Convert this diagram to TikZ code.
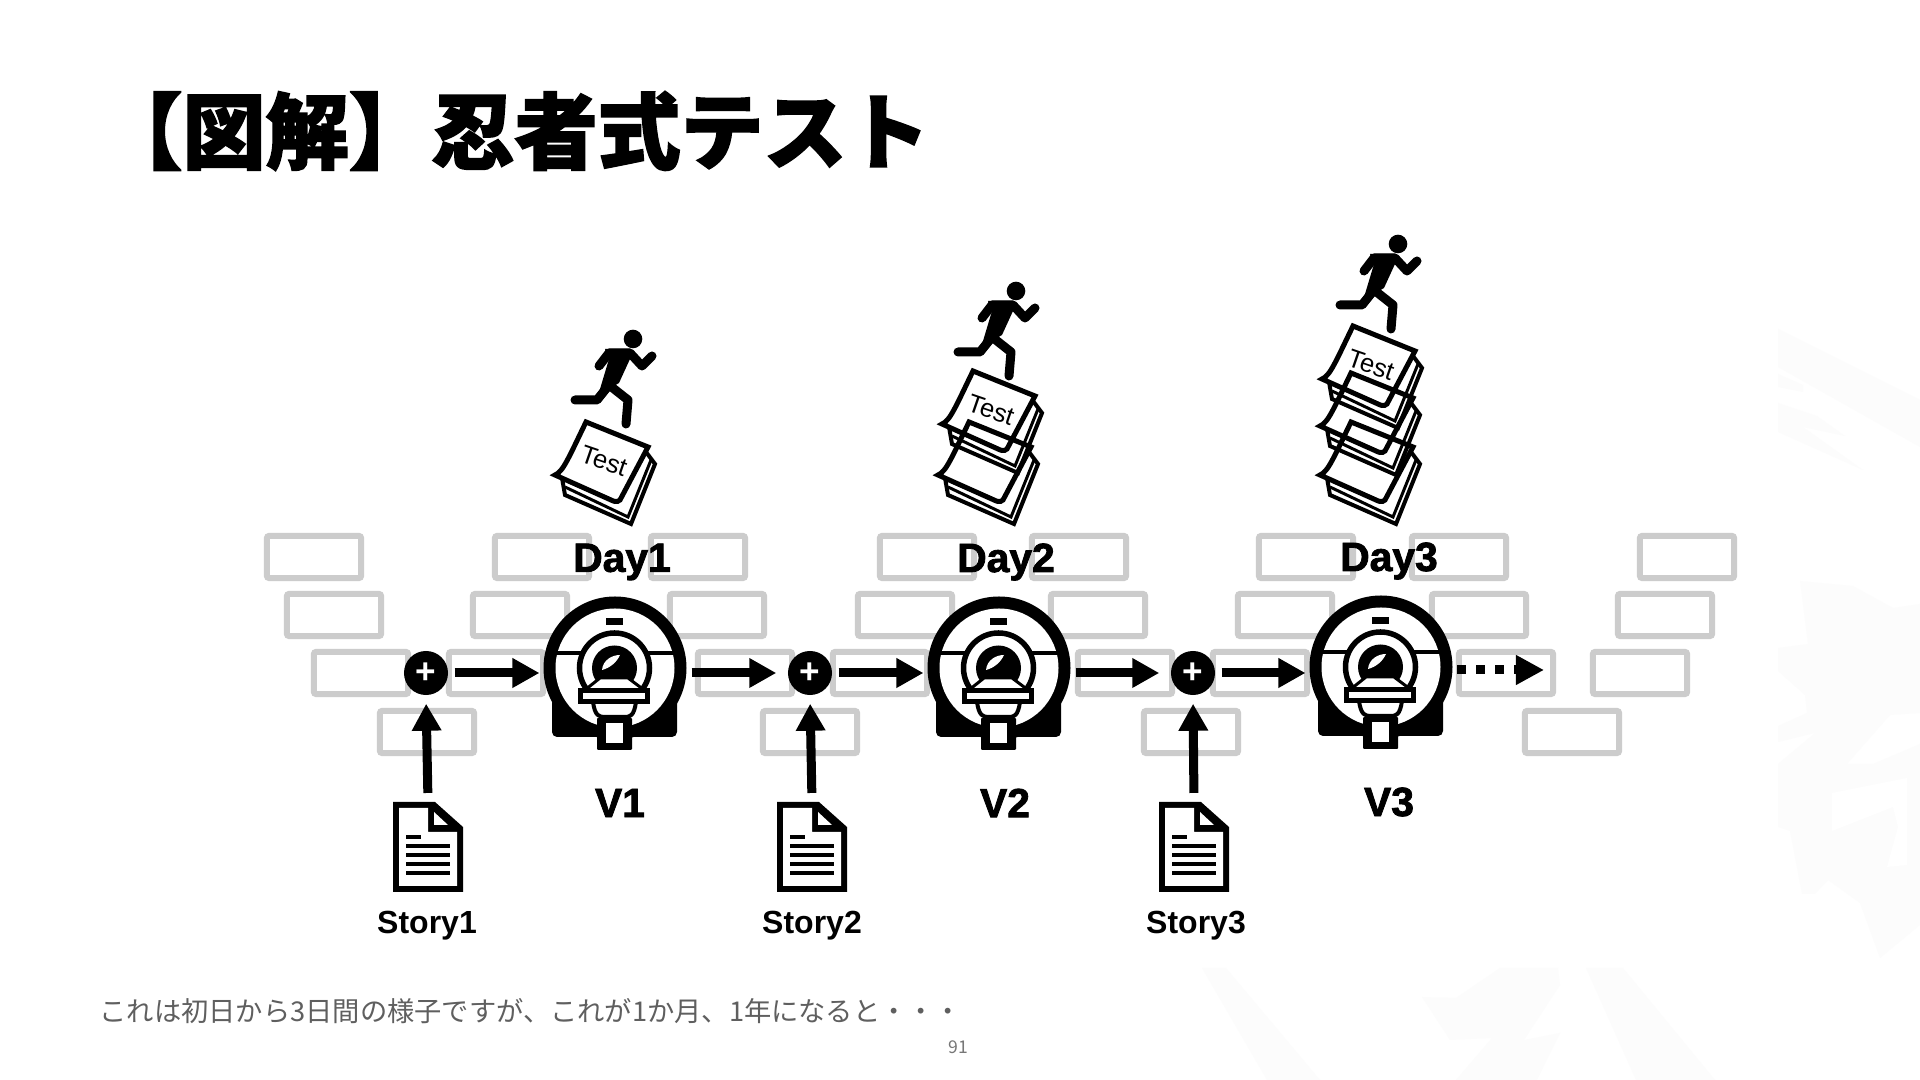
\documentclass[tikz,border=0pt]{standalone}
\usepackage{fontspec}
\setmainfont{Liberation Sans}
\newfontfamily\cjkfont{Noto Sans CJK JP}[BoldFeatures={FakeBold=2}]
\newfontfamily\heavyfont[UprightFont=* Bold,FakeBold=2]{Liberation Sans}
\usetikzlibrary{positioning,calc,arrows.meta}
\definecolor{BrickGray}{HTML}{CCCCCC}
\definecolor{NoteGray}{HTML}{5F5F5F}
\definecolor{PageGray}{HTML}{777777}
\definecolor{WaterGray}{HTML}{FCFCFC}
\tikzset{
  brick/.style={draw=BrickGray, line width=0.06cm, rounded corners=0.02cm, minimum width=0.94cm, minimum height=0.42cm, inner sep=0pt},
  flow/.style={-{Triangle[length=0.27cm,width=0.28cm]}, line width=0.09cm},
  addnode/.style={circle, fill=black, text=white, minimum size=0.44cm, inner sep=0pt, font=\bfseries\fontsize{10}{10}\selectfont},
  scanner/.style={circle, minimum size=1.43cm, inner sep=0pt, outer sep=0pt},
  docnode/.style={rectangle, minimum width=0.7cm, minimum height=0.9cm, inner sep=0pt, outer sep=0pt},
  daylabel/.style={font=\heavyfont\fontsize{11.6}{12}\selectfont, inner sep=0pt},
  storylabel/.style={font=\bfseries\fontsize{9.1}{10}\selectfont, inner sep=0pt},
  testlabel/.style={rotate=-19, inner sep=0pt, font=\fontsize{7.3}{8}\selectfont},
  mri/.pic={
    \fill[rounded corners=0.05cm] (-63,30) rectangle (62,69);
    \fill (0,0) circle (71.5);
    \fill[white] (0,0) circle (59.5);
    \fill (-9,-50) rectangle (8,-43);
    \draw[line width=0.04cm] (-59,-15) -- (59,-15);
    \draw[fill=white,line width=0.055cm] (-0.5,0) circle (35);
    \fill (-0.5,0) circle (22.5);
    \fill[white] (-13,2) .. controls (-12,-8) and (-3,-13) .. (5,-13) .. controls (2,-6) and (-5,0) .. (-13,2) -- cycle;
    \draw[fill=white,line width=0.03cm] (-30,22) -- (-15,10) -- (13,10) -- (29,22) -- cycle;
    \draw[fill=white,line width=0.04cm] (-22,34) .. controls (-20,48) and (-16,49) .. (-10,49) -- (10,49) .. controls (15,49) and (19,48) .. (21,34) -- cycle;
    \draw[fill=white,line width=0.05cm] (-34.5,22.5) rectangle (32.5,33.5);
    \fill[rounded corners=0.01cm] (-18,50) rectangle (17,82);
    \fill[white] (-9,55) rectangle (8,75);
  },
  runner/.pic={
    \fill (0,0) circle (9.3);
    \draw[line width=0.09cm,line cap=round,line join=round] (-34,27) -- (-24,14) -- (-3,14) -- (9,27) -- (19,17);
    \fill (-28,10) -- (-2,10) -- (-3,20) -- (-14,44) -- (-24,50) -- (-36,60) -- (-30,40) -- (-24,20) -- cycle;
    \draw[line width=0.09cm,line cap=round,line join=round] (-58,61) -- (-36,61) -- (-24,46) -- (-5,61) -- (-7,85);
  },
  notesheet/.pic={
    \draw[line width=0.04cm,line join=miter] (-41,11) -- (-38,28) -- (28,57) -- (52,-3) -- (43,-15);
    \draw[line width=0.03cm] (-38,20) -- (25,50) -- (48,-7);
    \draw[line width=0.05cm,line join=miter] (-17,-45) -- (45,-20) -- (17,33) .. controls (14,36) and (10,34) .. (8,33) -- (-48,8) .. controls (-40,5) and (-34,-10) .. (-17,-45) -- cycle;
  }
}
\begin{document}
\begin{tikzpicture}[x=0.01cm,y=-0.01cm]
  \useasboundingbox[fill=white] (0,0) rectangle (1920,1080);
  % faint backdrop
  \fill[WaterGray] (1202,968) -- (1226,968) -- (1320,1080) -- (1267,1080) -- cycle;
  \fill[WaterGray] (1586,968) -- (1623,968) -- (1715,1080) -- (1636,1080) -- cycle;
  \fill[WaterGray] (1500,968) -- (1558,968) -- (1560,985) -- (1524,1040) -- (1560,1033) -- (1537,1080) -- (1456,1080) -- (1492,1038) -- (1450,1040) -- (1422,997) -- (1456,998) -- cycle;
  \fill[WaterGray] (1778,329) -- (1920,400) -- (1920,447) -- (1778,367) -- cycle;
  \fill[WaterGray] (1778,374) -- (1803,385) -- (1803,392) -- (1778,387) -- cycle;
  \fill[WaterGray] (1778,403) -- (1817,416) -- (1845,436) -- (1803,427) -- (1863,470) -- (1778,432) -- cycle;
  \fill[WaterGray] (1800,581) -- (1853,586) -- (1893,608) -- (1920,604) -- (1920,713) -- (1890,715) -- (1847,764) -- (1873,764) -- (1920,744) -- (1920,925) -- (1880,958) -- (1860,903) -- (1828,880) -- (1815,894) -- (1802,894) -- (1790,831) -- (1778,827) -- (1778,764) -- (1815,733) -- (1778,742) -- (1778,726) -- (1807,713) -- (1805,695) -- (1778,671) -- (1778,648) -- (1808,644) -- cycle;
  \fill[white] (1832,793) -- (1907,778) -- (1907,865) -- (1887,867) -- (1898,827) -- (1893,807) -- (1832,831) -- cycle;
  % title and notes
  \node[anchor=west, inner sep=0pt, font=\cjkfont\bfseries\fontsize{23.6}{24}\selectfont] (title) at (99,131) {【図解】忍者式テスト};
  \node[anchor=west, inner sep=0pt, text=NoteGray, font=\cjkfont\fontsize{7.75}{8}\selectfont] (note) at (99,1011) {これは初日から3日間の様子ですが、これが1か月、1年になると・・・};
  \node[inner sep=0pt, text=PageGray, font=\cjkfont\fontsize{5}{6}\selectfont] (page) at (958,1047) {91};
  % bricks
  \foreach \bx in {264,492,648,877,1029,1256,1409,1637} \node[brick] (rowa\bx) at (\bx+50,557) {};
  \foreach \bx in {284,470,667,855,1048,1235,1429,1615} \node[brick] (rowb\bx) at (\bx+50,615) {};
  \foreach \bx in {311,446,695,830,1075,1210,1456,1590} \node[brick] (rowc\bx) at (\bx+50,673) {};
  \foreach \bx in {377,760,1141,1522} \node[brick] (rowd\bx) at (\bx+50,732) {};
  % scanners
  \node[scanner] (mri1) at (615,668) {};
  \node[scanner] (mri2) at (999,668) {};
  \node[scanner] (mri3) at (1381,667) {};
  \foreach \m in {mri1,mri2,mri3} \pic at (\m) {mri};
  % add nodes
  \node[addnode] (plus1) at (426,673) {+};
  \node[addnode] (plus2) at (810,673) {+};
  \node[addnode] (plus3) at (1193,673) {+};
  % stories
  \foreach \i/\sx in {1/428,2/812,3/1194} {
    \node[docnode] (story\i) at (\sx,847) {};
    \fill (\sx-35,802) -- (\sx+7,802) -- (\sx+35,827) -- (\sx+35,892) -- (\sx-35,892) -- cycle;
    \fill[white] (\sx-29,808) -- (\sx,808) -- (\sx,832) -- (\sx+29,832) -- (\sx+29,886) -- (\sx-29,886) -- cycle;
    \fill[white] (\sx+6,812) -- (\sx+20,825) -- (\sx+6,825) -- cycle;
    \draw[line width=0.047cm] (\sx-22,837) -- (\sx-7,837);
    \foreach \ly in {846,855,864,873} \draw[line width=0.047cm] (\sx-22,\ly) -- (\sx+22,\ly);
  }
  % labels
  \node[storylabel] (storytext1) at (427,926) {Story1};
  \node[storylabel] (storytext2) at (812,926) {Story2};
  \node[storylabel] (storytext3) at (1196,926) {Story3};
  \node[daylabel] (day1) at (622,562) {Day1};
  \node[daylabel] (day2) at (1006,562) {Day2};
  \node[daylabel] (day3) at (1389,561) {Day3};
  \node[daylabel] (v1) at (620,803) {V1};
  \node[daylabel] (v2) at (1005,803) {V2};
  \node[daylabel] (v3) at (1389,802) {V3};
  % runners
  \pic at (633,339) {runner};
  \pic at (1016,291) {runner};
  \pic at (1398,244) {runner};
  % test sheets
  \pic at (603,467) {notesheet};
  \node[testlabel] (test1) at (604,461) {Test};
  \pic at (990,416) {notesheet};
  \node[testlabel] (test2) at (991,410) {Test};
  \pic at (986,467) {notesheet};
  \pic at (1370,371) {notesheet};
  \node[testlabel] (test3) at (1371,365) {Test};
  \pic at (1368,418) {notesheet};
  \pic at (1368,467) {notesheet};
  % connectors
  \foreach \i in {1,2,3} {
    \draw[flow,shorten <=0.06cm,shorten >=0.04cm] (plus\i.east) -- (plus\i -| mri\i.west);
    \draw[flow,shorten <=0.09cm,shorten >=0.08cm] (story\i.north) -- (plus\i.south);
  }
  \draw[flow,shorten <=0.05cm,shorten >=0.11cm] (plus2 -| mri1.east) -- (plus2.west);
  \draw[flow,shorten <=0.05cm,shorten >=0.11cm] (plus3 -| mri2.east) -- (plus3.west);
  \coordinate (cont) at (1544,670);
  \draw[-{Triangle[length=0.28cm,width=0.28cm]},line width=0.09cm,dash pattern=on 0.09cm off 0.10cm,shorten <=0.045cm] (cont -| mri3.east) -- (cont);
\end{tikzpicture}
\end{document}
